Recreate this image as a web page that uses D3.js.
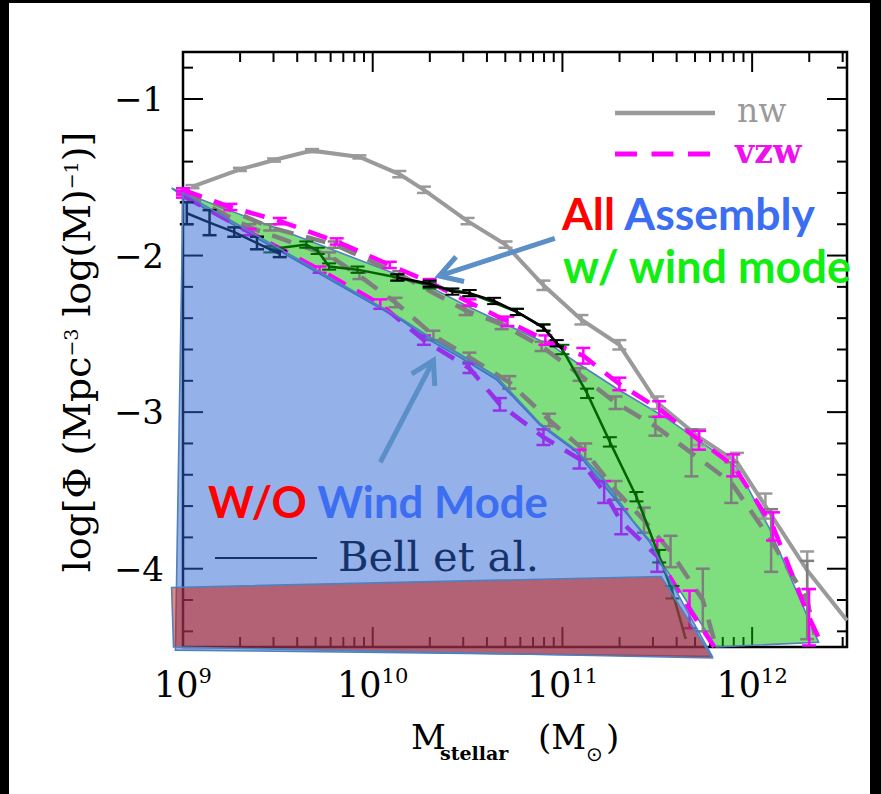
<!DOCTYPE html>
<html>
<head>
<meta charset="utf-8">
<script src="https://cdn.jsdelivr.net/npm/d3@7"></script>
<style>
  html, body { margin: 0; padding: 0; background: #000; }
  svg { display: block; }
</style>
</head>
<body>
<svg id="chart" width="881" height="794"></svg>
<script>
// ---- Stellar mass function data (log10 M, log Phi, error in dex) ----
const nwLogM = [9.05, 9.30, 9.48, 9.68, 9.93, 10.14, 10.27, 10.50, 10.70, 10.90, 11.10, 11.30, 11.50, 11.72, 11.92, 12.07, 12.29, 12.50];
const nwPhi  = [-1.56, -1.45, -1.39, -1.33, -1.37, -1.48, -1.58, -1.78, -1.93, -2.19, -2.41, -2.57, -2.94, -3.16, -3.32, -3.60, -4.01, -4.33];
const nwErr  = [0.01, 0.01, 0.01, 0.01, 0.01, 0.02, 0.02, 0.02, 0.02, 0.03, 0.03, 0.03, 0.04, 0.05, 0.06, 0.08, 0.12, 0];

const vzwLogM = [9.00, 9.25, 9.51, 9.81, 10.09, 10.30, 10.51, 10.71, 10.91, 11.11, 11.30, 11.51, 11.72, 11.90, 12.11, 12.30, 12.37];
const vzwPhi  = [-1.58, -1.69, -1.78, -1.91, -2.06, -2.17, -2.30, -2.42, -2.54, -2.64, -2.82, -2.98, -3.18, -3.34, -3.73, -4.31, -4.49];
const vzwErr  = [0.01, 0.02, 0.02, 0.02, 0.02, 0.02, 0.02, 0.03, 0.03, 0.05, 0.04, 0.05, 0.06, 0.07, 0.09, 0.18, 0];

const vzwLowLogM = [9.00, 9.35, 9.72, 10.04, 10.27, 10.51, 10.67, 10.90, 11.09, 11.22, 11.31, 11.50, 11.67, 11.80];
const vzwLowPhi  = [-1.62, -1.85, -2.09, -2.31, -2.54, -2.72, -2.95, -3.16, -3.30, -3.51, -3.70, -3.92, -4.26, -4.50];
const vzwLowErr  = [0.01, 0.02, 0.02, 0.03, 0.03, 0.03, 0.04, 0.05, 0.06, 0.07, 0.08, 0.10, 0.12, 0];

const cwLowLogM = [9.00, 9.35, 9.77, 9.93, 10.12, 10.32, 10.51, 10.72, 10.93, 11.12, 11.28, 11.43, 11.57, 11.74, 11.81];
const cwLowPhi  = [-1.60, -1.82, -2.00, -2.13, -2.30, -2.51, -2.65, -2.81, -3.05, -3.25, -3.50, -3.69, -3.89, -4.20, -4.50];
const cwLowErr  = [0.01, 0.02, 0.02, 0.02, 0.03, 0.03, 0.03, 0.04, 0.04, 0.05, 0.06, 0.08, 0.10, 0.20, 0];

const cwLogM = [9.00, 9.46, 9.80, 10.14, 10.49, 10.68, 10.89, 11.09, 11.28, 11.49, 11.68, 11.89, 12.10, 12.29, 12.33];
const cwPhi  = [-1.58, -1.82, -1.93, -2.12, -2.35, -2.44, -2.58, -2.76, -2.94, -3.09, -3.26, -3.45, -3.82, -4.20, -4.42];
const cwErr  = [0.01, 0.02, 0.02, 0.02, 0.03, 0.03, 0.03, 0.04, 0.04, 0.06, 0.15, 0.13, 0.20, 0.25, 0];

const obsLogM = [9.46, 9.65, 9.71, 9.77, 9.92, 10.13, 10.30, 10.51, 10.76, 10.90, 11.00, 11.13, 11.25, 11.39, 11.51, 11.58, 11.65];
const obsPhi  = [-1.96, -1.93, -1.97, -2.07, -2.09, -2.14, -2.19, -2.24, -2.36, -2.46, -2.60, -2.88, -3.19, -3.54, -3.92, -4.15, -4.45];
const obsErr  = [0.02, 0.02, 0.02, 0.02, 0.02, 0.02, 0.02, 0.02, 0.02, 0.02, 0.03, 0.03, 0.03, 0.03, 0.04, 0.04, 0];

const obsMidLogM = [10.13, 10.30, 10.42, 10.51, 10.64, 10.76, 10.90, 10.97, 11.00];
const obsMidPhi  = [-2.14, -2.18, -2.23, -2.24, -2.29, -2.36, -2.46, -2.56, -2.60];
const obsMidErr  = [0.02, 0.02, 0.02, 0.02, 0.02, 0.02, 0.02, 0.02, 0];

const bellLogM = [9.02, 9.14, 9.27, 9.39, 9.51];
const bellPhi  = [-1.73, -1.79, -1.85, -1.92, -1.99];
const bellErr  = [0.07, 0.08, 0.03, 0.04, 0.02];

// ---- Highlighted regions (log10 M, log Phi) ----
const blueLogM = [9.00, 10.16, 10.30, 10.46, 10.65, 10.88, 11.07, 11.22, 11.37, 11.46, 11.53, 11.79, 8.96];
const bluePhi  = [-1.60, -2.41, -2.52, -2.63, -2.77, -3.07, -3.24, -3.43, -3.69, -3.82, -3.99, -4.56, -4.52];

const greenLogM = [8.94, 10.30, 10.51, 10.72, 10.95, 11.07, 11.30, 11.55, 11.92, 12.09, 12.35, 11.81, 11.55, 11.46, 11.28, 11.07, 10.88, 10.65, 10.46, 10.30, 10.16, 9.00];
const greenPhi  = [-1.57, -2.20, -2.33, -2.45, -2.58, -2.68, -2.86, -3.04, -3.35, -3.74, -4.47, -4.50, -4.01, -3.83, -3.56, -3.25, -3.08, -2.79, -2.65, -2.54, -2.42, -1.62];

const redLogM = [8.94, 11.52, 11.79, 8.95];
const redPhi  = [-4.12, -4.05, -4.57, -4.50];

// arrows: [start, end] in (log10 M, log Phi)
const arrowAll = [[10.96, -1.89], [10.35, -2.13]];
const arrowNoWind = [[10.04, -3.32], [10.32, -2.67]];

// ---- Axis ticks ----
const xMajorExp = [9, 10, 11, 12];
const yMajor = [-4, -3, -2, -1];

// ---- Scales ----
const svg = d3.select("#chart");
const x = d3.scaleLog().domain([1e9, Math.pow(10, 12.5)]).range([183, 847]);
const y = d3.scaleLinear().domain([-4.5, -0.7]).range([647, 52]);
const px = lm => x(Math.pow(10, lm));

// page background inside the black frame
svg.append("rect").attr("x", 9).attr("y", 3).attr("width", 861).attr("height", 791).attr("fill", "#fff");

const serif = "'DejaVu Serif', 'Liberation Serif', serif";

// ---- Axes frame and ticks ----
const axesG = svg.append("g");
const [x0, x1] = x.range();
const [yb, yt] = y.range();
axesG.append("rect").attr("x", x0).attr("y", yt).attr("width", x1 - x0).attr("height", yb - yt)
  .attr("fill", "none").attr("stroke", "#000").attr("stroke-width", 2.5);

const xMinor = [];
for (let e = 9; e <= 12; e++) for (let k = 2; k <= 9; k++) { const v = k * Math.pow(10, e); if (v < x.domain()[1]) xMinor.push(v); }
const xMajor = xMajorExp.map(e => Math.pow(10, e));
function tickLines(vals, len) {
  vals.forEach(v => {
    const xx = x(v);
    axesG.append("line").attr("x1", xx).attr("x2", xx).attr("y1", yb).attr("y2", yb - len).attr("stroke", "#000").attr("stroke-width", 2);
    axesG.append("line").attr("x1", xx).attr("x2", xx).attr("y1", yt).attr("y2", yt + len).attr("stroke", "#000").attr("stroke-width", 2);
  });
}
tickLines(xMinor, 10);
tickLines(xMajor, 20);
const yTicks = d3.range(-4.4, -0.75, 0.2).map(v => Math.round(v * 10) / 10);
yTicks.forEach(v => {
  const len = yMajor.includes(v) ? 20 : 10;
  const yy = y(v);
  axesG.append("line").attr("x1", x0).attr("x2", x0 + len).attr("y1", yy).attr("y2", yy).attr("stroke", "#000").attr("stroke-width", 2);
  axesG.append("line").attr("x1", x1).attr("x2", x1 - len).attr("y1", yy).attr("y2", yy).attr("stroke", "#000").attr("stroke-width", 2);
});

// tick labels
yMajor.forEach(v => {
  axesG.append("text").attr("x", 164).attr("y", y(v) + 12).attr("text-anchor", "end")
    .attr("font-family", serif).attr("font-size", 34).attr("fill", "#000").text("\u2212" + Math.abs(v));
});
xMajorExp.forEach(e => {
  const t = axesG.append("text").attr("x", x(Math.pow(10, e))).attr("y", 697).attr("text-anchor", "middle")
    .attr("font-family", serif).attr("font-size", 35).attr("fill", "#000");
  t.append("tspan").text("10");
  t.append("tspan").attr("font-size", 21).attr("dy", -14).text(String(e));
});

// axis titles
const yTitle = axesG.append("text").attr("transform", "translate(90,352) rotate(-90)").attr("text-anchor", "middle")
  .attr("font-family", serif).attr("font-size", 30).attr("fill", "#000");
yTitle.append("tspan").text("log[\u03A6 (Mpc");
yTitle.append("tspan").attr("font-size", 19).attr("dy", -12).text("\u22123");
yTitle.append("tspan").attr("dy", 12).text(" log(M)");
yTitle.append("tspan").attr("font-size", 19).attr("dy", -12).text("\u22121");
yTitle.append("tspan").attr("dy", 12).text(")]");
{
  const w = yTitle.node().getComputedTextLength();
  if (w > 0) yTitle.attr("font-size", 30 * 455 / w);
}

const xt = axesG.append("g").attr("font-family", serif).attr("fill", "#000");
xt.append("text").attr("x", 411).attr("y", 749).attr("font-size", 34).text("M");
xt.append("text").attr("x", 440).attr("y", 760).attr("font-size", 19).attr("font-weight", "bold").text("stellar");
xt.append("text").attr("x", 538).attr("y", 749).attr("font-size", 34).text("(M");
xt.append("text").attr("x", 586).attr("y", 761).attr("font-size", 20).attr("font-family", "'DejaVu Sans', sans-serif").text("\u2299");
xt.append("text").attr("x", 606).attr("y", 749).attr("font-size", 34).text(")");

// ---- Series drawing ----
const line = d3.line().x(d => px(d[0])).y(d => y(d[1]));
function series(g, lm, phi, err, style) {
  const pts = lm.map((m, i) => [m, phi[i], err[i]]);
  g.append("path").attr("d", line(pts)).attr("fill", "none").attr("stroke", style.color)
    .attr("stroke-width", style.width).attr("stroke-dasharray", style.dash || null);
  const cap = style.cap || 7;
  pts.forEach(p => {
    if (!p[2]) return;
    const xx = px(p[0]), ya = y(p[1] + p[2]), yb2 = y(p[1] - p[2]);
    g.append("line").attr("x1", xx).attr("x2", xx).attr("y1", ya).attr("y2", yb2).attr("stroke", style.color).attr("stroke-width", style.ebWidth || 2.5);
    [ya, yb2].forEach(yy => g.append("line").attr("x1", xx - cap).attr("x2", xx + cap).attr("y1", yy).attr("y2", yy)
      .attr("stroke", style.color).attr("stroke-width", style.ebWidth || 2.5));
  });
}
const poly = (lm, phi) => lm.map((m, i) => [px(m), y(phi[i])].join(",")).join(" ");
const edge = "#4f81bd";

// green region (with wind mode)
svg.append("polygon").attr("points", poly(greenLogM, greenPhi)).attr("fill", "#00c000").attr("fill-opacity", 0.5)
  .attr("stroke", edge).attr("stroke-width", 1.6);

const dataG = svg.append("g");
series(dataG, nwLogM, nwPhi, nwErr, { color: "#9a9a9a", width: 4 });
series(dataG, cwLogM, cwPhi, cwErr, { color: "#7f7f7f", width: 4.5, dash: "20,13" });
series(dataG, cwLowLogM, cwLowPhi, cwLowErr, { color: "#7f7f7f", width: 4.5, dash: "20,13" });
series(dataG, vzwLowLogM, vzwLowPhi, vzwLowErr, { color: "#ff00ff", width: 4.5, dash: "20,13" });
series(dataG, vzwLogM, vzwPhi, vzwErr, { color: "#ff00ff", width: 4.5, dash: "20,13" });
series(dataG, obsLogM, obsPhi, obsErr, { color: "#006400", width: 2.5, ebWidth: 2 });
series(dataG, obsMidLogM, obsMidPhi, obsMidErr, { color: "#000", width: 2.5, ebWidth: 2 });
series(dataG, bellLogM, bellPhi, bellErr, { color: "#000", width: 2.5, ebWidth: 2.5 });

// Bell et al. key
svg.append("line").attr("x1", 215).attr("x2", 317).attr("y1", 558).attr("y2", 558).attr("stroke", "#000").attr("stroke-width", 2);
const bellText = svg.append("text").attr("x", 338).attr("y", 571).attr("font-family", serif).attr("font-size", 36)
  .attr("fill", "#000").text("Bell et al.");
{
  const w = bellText.node().getComputedTextLength();
  if (w > 0) bellText.attr("font-size", 36 * 201 / w);
}

// blue region (without wind mode)
svg.append("polygon").attr("points", poly(blueLogM, bluePhi)).attr("fill", "#2c64d4").attr("fill-opacity", 0.5)
  .attr("stroke", edge).attr("stroke-width", 1.6);

// red band
svg.append("polygon").attr("points", poly(redLogM, redPhi)).attr("fill", "#d01400").attr("fill-opacity", 0.5)
  .attr("stroke", edge).attr("stroke-width", 1.6);

// ---- Key for model curves ----
svg.append("line").attr("x1", 615).attr("x2", 715).attr("y1", 113).attr("y2", 113).attr("stroke", "#9a9a9a").attr("stroke-width", 4.5);
svg.append("text").attr("x", 737).attr("y", 122).attr("font-family", serif).attr("font-size", 33).attr("fill", "#9a9a9a").text("nw");
svg.append("line").attr("x1", 615).attr("x2", 715).attr("y1", 154).attr("y2", 154).attr("stroke", "#ff00ff").attr("stroke-width", 5)
  .attr("stroke-dasharray", "22,14.5");
svg.append("text").attr("x", 735).attr("y", 163).attr("font-family", serif).attr("font-weight", "bold").attr("font-size", 33).attr("fill", "#ee11ee").text("vzw");

// ---- Arrows ----
function arrow(a) {
  const [sx, sy] = [px(a[0][0]), y(a[0][1])];
  const [ex, ey] = [px(a[1][0]), y(a[1][1])];
  const dx = ex - sx, dy = ey - sy, L = Math.hypot(dx, dy);
  const ux = dx / L, uy = dy / L;
  const hl = 22, hw = 13;
  const g = svg.append("g").attr("stroke", "#5b8fc8").attr("stroke-width", 5).attr("fill", "none").attr("stroke-linecap", "butt");
  g.append("line").attr("x1", sx).attr("y1", sy).attr("x2", ex - ux * 2).attr("y2", ey - uy * 2);
  g.append("polyline").attr("stroke-linejoin", "miter")
    .attr("points", [[ex - ux * hl - uy * hw, ey - uy * hl + ux * hw], [ex, ey], [ex - ux * hl + uy * hw, ey - uy * hl - ux * hw]].map(p => p.join(",")).join(" "));
}
arrow(arrowAll);
arrow(arrowNoWind);

// ---- Annotation labels ----
const sans = "Lato, 'Open Sans', sans-serif";
function label(xp, yp, width, parts) {
  const t = svg.append("text").attr("x", xp).attr("y", yp).attr("font-family", sans).attr("font-weight", "bold").attr("font-size", 40);
  parts.forEach(p => t.append("tspan").attr("fill", p[1]).text(p[0]));
  const w = t.node().getComputedTextLength();
  if (w > 0) t.attr("font-size", 40 * width / w);
}
label(562, 230, 253, [["All ", "#ff0000"], ["Assembly", "#3c6ef2"]]);
label(563, 283, 288, [["w/ wind mode", "#11ee11"]]);
label(208, 518, 340, [["W/O ", "#ff0000"], ["Wind Mode", "#3c6ef2"]]);
</script>
</body>
</html>
